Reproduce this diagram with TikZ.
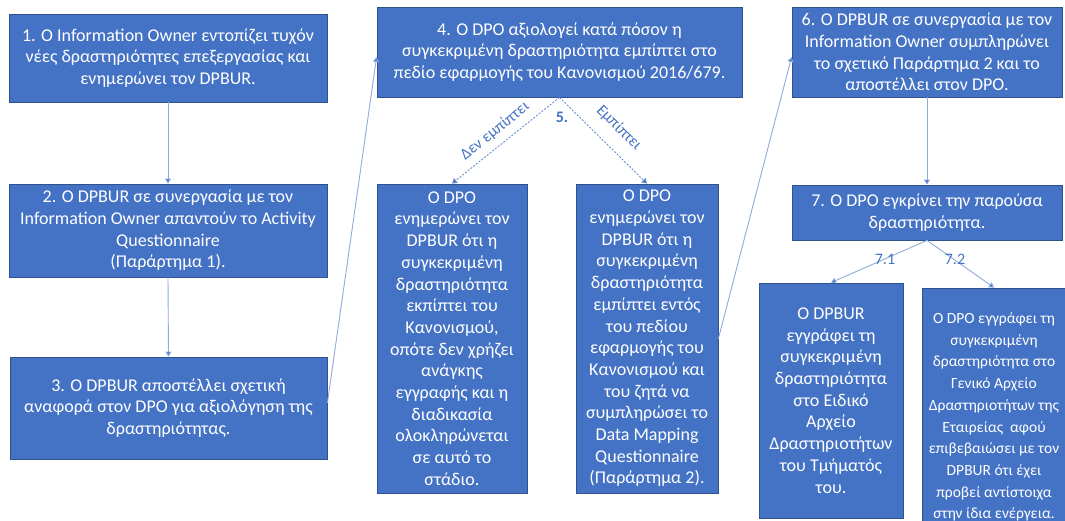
\documentclass[tikz,border=0pt]{standalone}
\usepackage{fontspec}
\setmainfont{Carlito}
\usetikzlibrary{arrows.meta}
\definecolor{boxblue}{HTML}{4472C4}
\definecolor{boxedge}{HTML}{2F528F}
\definecolor{linkblue}{HTML}{8FAADC}
\tikzset{
  box/.style={draw=boxedge, line width=0.8pt, fill=boxblue, text=white, align=center, inner sep=1pt,
    font=\fontsize{18}{21.7}\selectfont},
  smallbox/.style={box, font=\fontsize{15.5}{21.7}\selectfont},
  link/.style={draw=linkblue, line width=0.9pt, -{Triangle[length=5pt,width=6pt,fill=boxblue]}},
  dlink/.style={link, draw=boxblue!80, dash pattern=on 2pt off 1.5pt},
  lbl/.style={text=boxblue, font=\fontsize{16}{18}\selectfont, inner sep=0pt},
}
\begin{document}
\begin{tikzpicture}[x=1pt,y=-1pt]
\useasboundingbox (0,0) rectangle (1065,521);
\node[box, minimum width=318pt, minimum height=88pt] (b1) at (168,58)
  {1. Ο Information Owner εντοπίζει τυχόν\\νέες δραστηριότητες επεξεργασίας και\\ενημερώνει τον DPBUR.};
\node[box, minimum width=318pt, minimum height=93pt] (b2) at (168,230.5)
  {2. Ο DPBUR σε συνεργασία με τον\\Information Owner απαντούν το Activity\\Questionnaire\\(Παράρτημα 1).};
\node[box, minimum width=317pt, minimum height=102pt] (b3) at (168.5,408)
  {3. Ο DPBUR αποστέλλει σχετική\\αναφορά στον DPO για αξιολόγηση της\\δραστηριότητας.};
\node[box, minimum width=365pt, minimum height=90pt] (b4) at (559.5,52)
  {4. Ο DPO αξιολογεί κατά πόσον η\\συγκεκριμένη δραστηριότητα εμπίπτει στο\\πεδίο εφαρμογής του Κανονισμού 2016/679.};
\node[box, minimum width=150pt, minimum height=309pt] (b5n) at (452,338.5)
  {Ο DPO\\ενημερώνει τον\\DPBUR ότι η\\συγκεκριμένη\\δραστηριότητα\\εκπίπτει του\\Κανονισμού,\\οπότε δεν χρήζει\\ανάγκης\\εγγραφής και η\\διαδικασία\\ολοκληρώνεται\\σε αυτό το\\στάδιο.};
\node[box, minimum width=142pt, minimum height=309pt] (b5y) at (647,338.5)
  {Ο DPO\\ενημερώνει τον\\DPBUR ότι η\\συγκεκριμένη\\δραστηριότητα\\εμπίπτει εντός\\του πεδίου\\εφαρμογής του\\Κανονισμού και\\του ζητά να\\συμπληρώσει το\\Data Mapping\\Questionnaire\\(Παράρτημα 2).};
\node[box, minimum width=270pt, minimum height=90pt] (b6) at (927,52)
  {6. Ο DPBUR σε συνεργασία με τον\\Information Owner συμπληρώνει\\το σχετικό Παράρτημα 2 και το\\αποστέλλει στον DPO.};
\node[box, minimum width=270pt, minimum height=55pt] (b7) at (927,212.5)
  {7. Ο DPO εγκρίνει την παρούσα\\δραστηριότητα.};
\node[box, minimum width=144pt, minimum height=235pt] (b71) at (831,400.5)
  {Ο DPBUR\\εγγράφει τη\\συγκεκριμένη\\δραστηριότητα\\στο Ειδικό\\Αρχείο\\Δραστηριοτήτων\\του Τμήματός\\του.};
\node[smallbox, minimum width=144pt, minimum height=258pt] (b72) at (994,417)
  {Ο DPO εγγράφει τη\\συγκεκριμένη\\δραστηριότητα στο\\Γενικό Αρχείο\\Δραστηριοτήτων της\\Εταιρείας\ \ αφού\\επιβεβαιώσει με τον\\DPBUR ότι έχει\\προβεί αντίστοιχα\\στην ίδια ενέργεια.};
\draw[link] (b1.south) -- (b2.north);
\draw[link] (b2.south) -- (b3.north);
\draw[link] ([yshift=5pt]b3.east) -- ([yshift=-5pt]b4.west);
\draw[dlink] (b4.south) -- (b5n.north);
\draw[dlink] (b4.south) -- (b5y.north);
\draw[link] (b5y.east) -- ([yshift=-5pt]b6.west);
\draw[link] (b6.south) -- (b7.north);
\draw[link] (b7.south) -- (b71.north);
\draw[link] (b7.south) -- (b72.north);
\node[lbl, rotate=39] (l5n) at (495,131) {Δεν εμπίπτει};
\node[lbl, rotate=-45] (l5y) at (619,128) {Εμπίπτει};
\node[lbl, font=\fontsize{16}{18}\selectfont\bfseries] (l5) at (562,117) {5.};
\node[lbl] (l71) at (885,259) {7.1};
\node[lbl] (l72) at (955,259) {7.2};
\end{tikzpicture}
\end{document}
